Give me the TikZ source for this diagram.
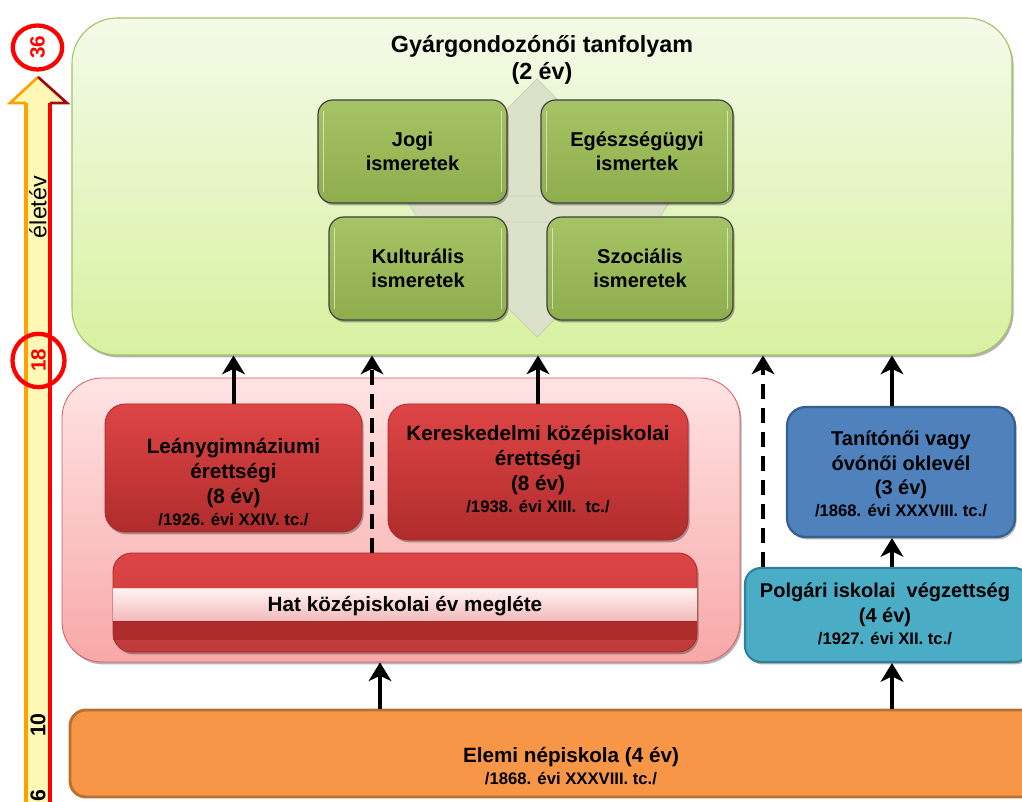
\documentclass[tikz,border=0pt]{standalone}
\usepackage{fontspec}
\setmainfont{Liberation Sans}
\usetikzlibrary{arrows.meta,shadows,shapes.geometric}
\definecolor{gtop}{HTML}{F3FAE8}
\definecolor{gbot}{HTML}{D8F1A0}
\definecolor{gedge}{HTML}{A3C262}
\definecolor{crossc}{HTML}{DCE2C9}
\definecolor{crossedge}{HTML}{C9D1B3}
\definecolor{olivet}{HTML}{A6C465}
\definecolor{oliveb}{HTML}{8EAD4C}
\definecolor{ptop}{HTML}{FFE3E3}
\definecolor{pbot}{HTML}{F8A8A8}
\definecolor{pedge}{HTML}{DE5A5A}
\definecolor{rtop}{HTML}{DE4545}
\definecolor{rbot}{HTML}{B02C2C}
\definecolor{redge}{HTML}{A82A2A}
\definecolor{stripet}{HTML}{FFF4F4}
\definecolor{stripeb}{HTML}{F2B8B8}
\definecolor{hatbot}{HTML}{AE2C2C}
\definecolor{bluec}{HTML}{4F81BD}
\definecolor{blueedge}{HTML}{335F91}
\definecolor{tealc}{HTML}{4BACC6}
\definecolor{tealedge}{HTML}{2F8198}
\definecolor{orangec}{HTML}{F79646}
\definecolor{orangeedge}{HTML}{B8712F}
\definecolor{baryel}{HTML}{FFF8B5}
\definecolor{barorange}{HTML}{FFA200}
\definecolor{axisred}{HTML}{FF0000}
\definecolor{headred}{HTML}{9E0A0A}
\newcommand{\fmain}{\fontsize{15.5}{18.75}\selectfont\bfseries}
\newcommand{\fsmall}{\fontsize{12.5}{15}\selectfont\bfseries}
\tikzset{
  shad/.style={drop shadow={shadow xshift=1.2pt,shadow yshift=-1.8pt,opacity=0.3,fill=black}},
  gbig/.style={draw=gedge,line width=0.8pt,rounded corners=34pt,top color=gtop,bottom color=gbot,
    minimum width=705pt,minimum height=252.75pt,inner sep=0pt,shad},
  gbox/.style={draw=black!75,line width=0.9pt,rounded corners=11pt,top color=olivet,bottom color=oliveb,
    minimum height=77.25pt,inner sep=0pt,align=center,font=\fontsize{15}{18}\selectfont\bfseries,shad},
  gloss/.style={white,opacity=0.55,line width=1pt},
  pbig/.style={draw=pedge,line width=0.6pt,rounded corners=30pt,top color=ptop,bottom color=pbot,
    minimum width=508.5pt,minimum height=213pt,inner sep=0pt,shad},
  rbox/.style={draw=redge,line width=0.6pt,rounded corners=15pt,top color=rtop,bottom color=rbot,
    inner sep=0pt,shad},
  txt/.style={align=center,inner sep=0pt,font=\fmain},
  arr/.style={line width=3pt,-{Stealth[length=14pt,width=17pt,inset=4pt]}},
  darr/.style={arr,dash pattern=on 11pt off 7pt},
  lab/.style={rotate=90,inner sep=0pt,font=\fontsize{15.5}{15.5}\selectfont\bfseries},
}
\begin{document}
\begin{tikzpicture}[x=0.75pt,y=-0.75pt]
\useasboundingbox (0,0) rectangle (1022,802);
\clip (0,0) rectangle (1022,802);

% ---- life-year axis ----
\fill[baryel] (26,103) rectangle (50,810);
\draw[barorange,line width=2.5pt] (26,103) -- (26,810);
\draw[axisred,line width=2.5pt] (50,103) -- (50,810);
\fill[baryel] (10,103) -- (38,77) -- (67,103) -- cycle;
\draw[barorange,line width=2pt,line join=miter] (26,103) -- (10,103) -- (38,77);
\draw[headred,line width=2pt,line join=miter] (38,77) -- (67,103) -- (50,103);
\node[draw=axisred,line width=3.2pt,ellipse,minimum width=37pt,minimum height=33pt,inner sep=0pt] (c36) at (37.5,47.5) {};
\node[lab,text=axisred] (n36) at (c36.center) {36};
\node[draw=axisred,line width=3.2pt,ellipse,minimum width=39pt,minimum height=40pt,inner sep=0pt] (c18) at (38.5,360.5) {};
\node[lab,text=axisred] (n18) at (c18.center) {18};
\node[rotate=90,inner sep=0pt,font=\fontsize{17.5}{17.5}\selectfont] (elet) at (38,207) {életév};
\node[lab,font=\fontsize{16}{16}\selectfont\bfseries] (n10) at (38,725) {10};
\node[lab,font=\fontsize{16}{16}\selectfont\bfseries] (n6) at (38,796) {6};

% ---- course box ----
\node[gbig] (green) at (542,186.5) {};
\node[txt,font=\fontsize{17.5}{20.25}\selectfont\bfseries] (title) at (542,60) {Gyárgondozónői tanfolyam\\(2 év)};
\filldraw[fill=crossc,draw=crossedge,line width=0.6pt] (537,79) -- (567,109) -- (567,307) -- (537,337) -- (507,307) -- (507,109) -- cycle;
\filldraw[fill=crossc,draw=crossedge,line width=0.6pt] (404,196) -- (673,196) -- (657,222) -- (420,222) -- cycle;
\fill[crossc] (508,197) rectangle (566,221);
\node[gbox,minimum width=141.75pt] (jogi) at (412.5,151.5) {Jogi\\ismeretek};
\node[gbox,minimum width=144pt] (egesz) at (637,151.5) {Egészségügyi\\ismertek};
\node[gbox,minimum width=133.5pt] (kult) at (418,268.5) {Kulturális\\ismeretek};
\node[gbox,minimum width=139.5pt] (szoc) at (640,268.5) {Szociális\\ismeretek};
\foreach \b in {jogi,egesz,kult,szoc}{
  \draw[gloss] ([xshift=4.5pt,yshift=-9pt]\b.north west) -- ([xshift=4.5pt,yshift=9pt]\b.south west);
  \draw[gloss] ([xshift=-4.5pt,yshift=-9pt]\b.north east) -- ([xshift=-4.5pt,yshift=9pt]\b.south east);
}

% ---- secondary school group ----
\node[pbig] (pink) at (401,520) {};
\node[rbox,minimum width=192.75pt,minimum height=96pt] (leany) at (233.5,468) {};
\node[txt] (leanyt) at (233.5,482) {Leánygimnáziumi\\érettségi\\(8 év)\\[-2pt]{\fsmall /1926. évi XXIV. tc./}};
\node[rbox,minimum width=225pt,minimum height=102pt] (keresk) at (538,472) {};
\node[txt] (kereskt) at (538,469) {Kereskedelmi középiskolai\\érettségi\\(8 év)\\[-2pt]{\fsmall /1938. évi XIII.\ \ tc./}};
\node[rbox,rounded corners=14pt,minimum width=438pt,minimum height=74.25pt,top color=rtop,bottom color=rtop!85!black] (hat) at (405,602.5) {};
\fill[hatbot] (113.4,622) rectangle (696.6,640);
\shade[top color=stripet,bottom color=stripeb] (113.4,588) rectangle (696.6,622);
\draw[white!80!red,line width=0.5pt] (113.4,588) -- (696.6,588);
\draw[redge,line width=0.8pt] (113.4,622) -- (696.6,622);
\node[txt] (hatt) at (405,606) {Hat középiskolai év megléte};

% ---- teacher track ----
\node[draw=blueedge,line width=1.6pt,rounded corners=14pt,fill=bluec,minimum width=171pt,minimum height=97.5pt,inner sep=0pt,shad] (tan) at (901,472) {};
\node[txt,font=\fontsize{15}{18.5}\selectfont\bfseries] (tant) at (901,474) {Tanítónői vagy\\óvónői oklevél\\(3 év)\\[-2pt]{\fsmall /1868. évi XXXVIII. tc./}};
\node[draw=tealedge,line width=1.6pt,rounded corners=12pt,fill=tealc,minimum width=213.75pt,minimum height=70.5pt,inner sep=0pt,shad] (polg) at (887.5,615) {};
\node[txt,font=\fontsize{15}{18.5}\selectfont\bfseries] (polgt) at (885,614) {Polgári iskolai\ \ végzettség\\(4 év)\\[-2pt]{\fsmall /1927. évi XII. tc./}};

% ---- elementary ----
\node[draw=orangeedge,line width=2.2pt,rounded corners=12pt,fill=orangec,minimum width=753.75pt,minimum height=65.25pt,inner sep=0pt] (elemi) at (572.5,753.5) {};
\node[txt,font=\fontsize{15.5}{17}\selectfont\bfseries] (elemit) at (571,766) {Elemi népiskola (4 év)\\{\fsmall /1868. évi XXXVIII. tc./}};

% ---- connectors ----
\coordinate (d1) at (372,0);
\coordinate (d2) at (763,0);
\coordinate (t1) at (892,0);
\coordinate (a1) at (380,0);
\draw[arr] (leany.north) -- (leany.north |- green.south);
\draw[arr] (keresk.north) -- (keresk.north |- green.south);
\draw[darr] (d1 |- hat.north) -- (d1 |- green.south);
\draw[darr] (d2 |- polg.north) -- (d2 |- green.south);
\draw[arr] (t1 |- tan.north) -- (t1 |- green.south);
\draw[arr] (t1 |- polg.north) -- (t1 |- tan.south);
\draw[arr] (a1 |- elemi.north) -- (a1 |- pink.south);
\draw[arr] (t1 |- elemi.north) -- (t1 |- polg.south);
\end{tikzpicture}
\end{document}
